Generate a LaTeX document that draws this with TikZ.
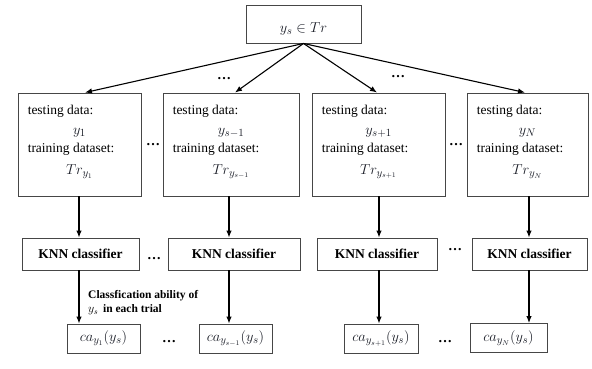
\documentclass[tikz,border=0pt]{standalone}
\usepackage{fontspec}
\setmainfont{Liberation Serif}
\usetikzlibrary{arrows.meta,calc}
\definecolor{mcol}{RGB}{25,28,38}
\definecolor{bcol}{RGB}{70,70,70}
\begin{document}
\begin{tikzpicture}[x=1pt,y=-1pt,
  box/.style={draw=bcol,line width=0.9pt,inner sep=0pt},
  txt/.style={anchor=west,inner sep=0pt,font=\fontsize{13.5}{16}\selectfont},
  mth/.style={inner sep=0pt,text=mcol,font=\fontsize{15}{17}\selectfont},
  knn/.style={font=\fontsize{13.5}{16}\selectfont\bfseries},
  dotsnode/.style={inner sep=0pt,font=\fontsize{14}{16}\selectfont\bfseries},
  arr/.style={line width=1.1pt,-{Latex[length=7pt,width=5.5pt]}}]
\useasboundingbox (0,0) rectangle (592,368);
% top
\node[box,minimum width=115pt,minimum height=38pt] (top) at (303.5,24) {};
\node[mth] (toptxt) at (303.5,29) {$y_s \in Tr$};
% row 1 boxes
\foreach \n/\cx/\w in {B1/79.5/123,B2/231/136,B3/378.5/133,B4/527.5/121}{
  \node[box,minimum width=\w pt,minimum height=103pt] (\n) at (\cx,144.5) {};
}
\foreach \n/\m in {B1/y_1,B2/y_{s-1},B3/y_{s+1},B4/y_N}{
  \node[txt] (\n t1) at ($(\n.north west)+(10,19)$) {testing data:};
  \node[mth] (\n t2) at ($(\n.north)+(0,40)$) {$\m$};
  \node[txt] (\n t3) at ($(\n.north west)+(10,57)$) {training dataset:};
  \node[mth] (\n t4) at ($(\n.north)+(0,79)$) {$Tr_{\m}$};
}
% KNN boxes
\foreach \n/\cx/\w in {K1/80.5/117,K2/234/132,K3/377/120,K4/529.5/115}{
  \node[box,knn,minimum width=\w pt,minimum height=32pt] (\n) at (\cx,254) {KNN classifier};
}
% ca boxes
\node[box,mth,minimum width=73pt,minimum height=29pt] (C1) at (103.5,338.5) {$ca_{y_1}(y_s)$};
\node[box,mth,minimum width=73pt,minimum height=29pt] (C2) at (235.5,338.5) {$ca_{y_{s-1}}(y_s)$};
\node[box,mth,minimum width=74pt,minimum height=29pt] (C3) at (381,338.5) {$ca_{y_{s+1}}(y_s)$};
\node[box,mth,minimum width=77pt,minimum height=29pt] (C4) at (508.5,338) {$ca_{y_N}(y_s)$};
% arrows from top
\draw[arr] (top.south) -- ([xshift=5.5pt]B1.north);
\draw[arr] (top.south) -- ([xshift=4pt]B2.north);
\draw[arr] (top.south) -- ([xshift=-1.5pt]B3.north);
\draw[arr] (top.south) -- ([xshift=-2.5pt]B4.north);
% row1 -> KNN
\foreach \b/\k/\dx in {B1/K1/-0.5,B2/K2/-2,B3/K3/0.5,B4/K4/1.5}{
  \draw[arr] ([xshift=\dx pt]\b.south) -- ([xshift=\dx pt]\b.south |- \k.north);
}
% KNN -> ca
\foreach \b/\k/\c/\dx in {B1/K1/C1/-0.5,B2/K2/C2/-2,B3/K3/C3/0.5,B4/K4/C4/1.5}{
  \draw[arr] ([xshift=\dx pt]\b.south |- \k.south) -- ([xshift=\dx pt]\b.south |- \c.north);
}
% label
\node[anchor=north west,inner sep=0pt,align=left,font=\fontsize{11.5}{14}\selectfont\bfseries] (lab) at (88,290) {Classfication ability of\\ $y_s$\, in each trial};
% dots
\node[dotsnode] (d1) at (224,79) {\dots};
\node[dotsnode] (d2) at (398,77) {\dots};
\node[dotsnode] (d3) at (153,145) {\dots};
\node[dotsnode] (d4) at (456,145) {\dots};
\node[dotsnode] (d5) at (154,259) {\dots};
\node[dotsnode] (d6) at (455,250) {\dots};
\node[dotsnode] (d7) at (169,342) {\dots};
\node[dotsnode] (d8) at (445,342) {\dots};
\end{tikzpicture}
\end{document}
